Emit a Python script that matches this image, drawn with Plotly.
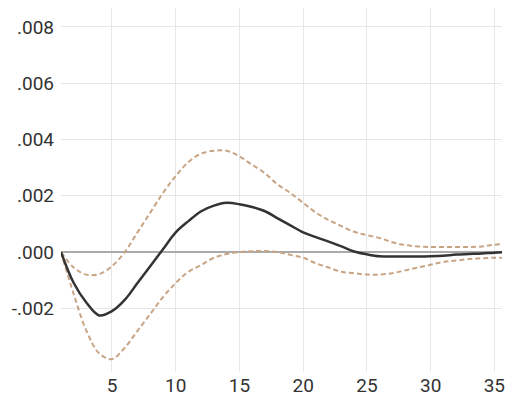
import plotly.graph_objects as go

# Impulse response (solid) with +/- 2 S.E. bands (dashed), periods 1..36
periods = list(range(1, 37))
response = [0.0, -0.0011, -0.0018, -0.00225, -0.0021, -0.0017, -0.0011, -0.0005,
            0.0001, 0.0007, 0.0011, 0.00145, 0.00165, 0.00175, 0.0017, 0.0016,
            0.00145, 0.0012, 0.00095, 0.0007, 0.00053, 0.00037, 0.0002, 0.00002,
            -0.00008, -0.00015, -0.00016, -0.00016, -0.00016, -0.00015, -0.00013,
            -0.00009, -0.00007, -0.00005, -0.00002, 0.0]
upper = [0.0, -0.00055, -0.0008, -0.00078, -0.0005, 0.0, 0.0007, 0.0014,
         0.0021, 0.0027, 0.0032, 0.0035, 0.0036, 0.0036, 0.0034, 0.0031,
         0.0028, 0.0024, 0.0021, 0.00175, 0.0014, 0.00114, 0.00092, 0.00072,
         0.0006, 0.0005, 0.00035, 0.00025, 0.0002, 0.00018, 0.00018, 0.00018,
         0.00018, 0.0002, 0.00026, 0.0003]
lower = [0.0, -0.0015, -0.0028, -0.0036, -0.0038, -0.0034, -0.0028, -0.0022,
         -0.0016, -0.0011, -0.0007, -0.00046, -0.0002, -0.00007, 0.0, 0.00003,
         0.00004, 0.0, -0.0001, -0.0002, -0.0004, -0.00055, -0.0007, -0.00075,
         -0.0008, -0.0008, -0.00075, -0.00065, -0.00055, -0.00045, -0.00035,
         -0.0003, -0.00025, -0.00022, -0.0002, -0.0002]

y_ticks = [-0.002, 0.0, 0.002, 0.004, 0.006, 0.008]
y_tick_text = ["-.002", ".000", ".002", ".004", ".006", ".008"]
x_ticks = [5, 10, 15, 20, 25, 30, 35]

band_color = "#c9a483"
font_family = "Roboto, Liberation Sans, sans-serif"

fig = go.Figure()
fig.add_trace(go.Scatter(x=periods, y=upper, mode="lines", line_shape="spline",
                         line=dict(color=band_color, width=2, dash="5px,3px")))
fig.add_trace(go.Scatter(x=periods, y=lower, mode="lines", line_shape="spline",
                         line=dict(color=band_color, width=2, dash="5px,3px")))
fig.add_trace(go.Scatter(x=periods, y=response, mode="lines", line_shape="spline",
                         line=dict(color="#333333", width=2.5)))

fig.update_layout(
    width=505, height=399,
    margin=dict(l=61, r=0, t=8, b=27),
    paper_bgcolor="white", plot_bgcolor="white",
    showlegend=False,
    font=dict(family=font_family, size=19, color="#333333"),
)
fig.update_xaxes(range=[1, 35.6], tickvals=x_ticks, showgrid=True,
                 gridcolor="#e6e6e6", gridwidth=1, zeroline=False,
                 showline=False, ticks="", ticklabelstandoff=0,
                 ticklabeloverflow="allow")
fig.update_yaxes(range=[-0.00426, 0.00867], tickvals=y_ticks, ticktext=y_tick_text,
                 showgrid=True, gridcolor="#e6e6e6", gridwidth=1,
                 zeroline=True, zerolinecolor="#aaaaaa", zerolinewidth=2,
                 showline=False, ticks="", ticklabelstandoff=6)

fig.write_html("out.html")
